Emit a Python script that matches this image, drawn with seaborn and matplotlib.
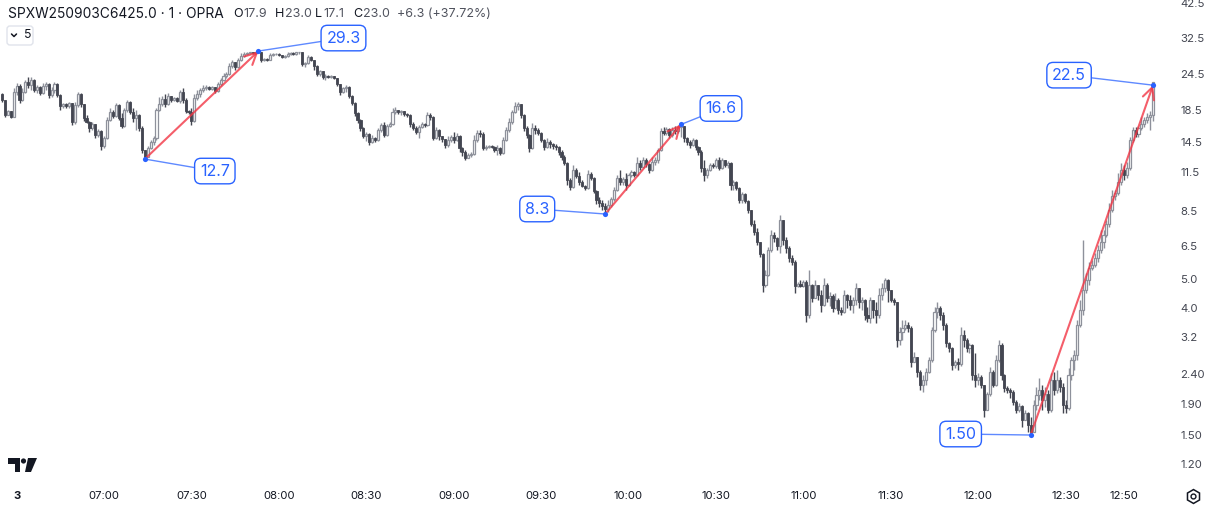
import numpy as np
import pandas as pd
import matplotlib
matplotlib.use("Agg")
import matplotlib.pyplot as plt
from matplotlib.patches import FancyBboxPatch, Polygon, Circle
from matplotlib.lines import Line2D
from matplotlib.transforms import IdentityTransform
from matplotlib.ticker import FixedLocator, NullLocator
import seaborn as sns

# --- data: 1-minute candles, first bar 5 minutes before the "3" (06:30) label ---
first_open = 21.0
close = [
    20.06, 17.86, 18.43, 17.59, 21.34, 22.36, 20.06, 21.34, 23.06, 22.53,
    23.42, 21.67, 22.19, 21.17, 22.36, 22.71, 20.85, 21.67, 22.71, 20.85,
    19.15, 19.45, 19.15, 19.60, 16.92, 19.30, 21.01, 19.45, 17.45, 16.92,
    16.15, 16.66, 15.30, 15.78, 14.05, 14.95, 17.18, 18.29, 17.72, 19.30,
    17.45, 16.40, 18.57, 19.75, 18.29, 17.45, 17.86, 16.15, 13.62, 12.90,
    13.83, 14.49, 14.95, 18.57, 19.45, 20.22, 19.45, 20.69, 20.06, 20.37,
    19.91, 21.34, 20.06, 18.43, 18.29, 17.05, 20.37, 21.01, 21.67, 22.01,
    22.19, 21.84, 22.19, 21.50, 22.71, 23.42, 24.15, 24.53, 26.10, 26.92,
    25.90, 27.34, 28.20, 28.64, 28.86, 29.08, 28.86, 29.08, 29.08, 27.34,
    27.55, 27.34, 28.42, 28.64, 28.64, 28.42, 27.99, 28.20, 28.64, 28.86,
    28.64, 29.08, 29.08, 26.50, 26.71, 27.99, 27.34, 26.10, 24.53, 25.10,
    23.97, 24.15, 23.97, 24.15, 23.78, 22.71, 21.34, 22.01, 22.19, 20.69,
    19.60, 18.15, 17.18, 16.15, 15.18, 15.42, 14.49, 14.95, 14.72, 15.90,
    16.53, 15.30, 16.40, 16.66, 18.29, 18.57, 18.29, 18.43, 18.01, 17.86,
    16.66, 16.15, 15.66, 16.28, 16.66, 16.53, 17.86, 17.59, 14.95, 15.90,
    15.18, 14.83, 14.16, 14.72, 15.07, 14.72, 15.18, 13.83, 13.41, 12.80,
    13.10, 13.20, 14.72, 15.54, 15.42, 13.83, 13.94, 14.05, 13.94, 13.62,
    13.83, 13.30, 14.72, 15.90, 16.92, 18.29, 19.15, 19.45, 17.86, 16.15,
    15.30, 13.83, 16.15, 15.90, 15.54, 14.72, 13.94, 14.49, 14.27, 14.05,
    13.94, 13.41, 12.90, 12.32, 10.80, 10.23, 11.67, 11.13, 10.64, 10.31,
    10.15, 11.31, 10.97, 9.91, 9.25, 9.04, 8.83, 8.63, 8.90, 9.32,
    9.99, 10.97, 10.64, 10.88, 10.39, 11.22, 11.49, 11.22, 12.32, 11.94,
    12.61, 12.23, 11.67, 12.42, 12.61, 13.62, 15.78, 15.54, 16.02, 15.30,
    15.90, 15.78, 16.28, 16.40, 14.95, 14.49, 14.16, 14.72, 13.94, 13.41,
    11.85, 11.22, 11.67, 12.13, 12.04, 12.61, 11.85, 12.61, 12.13, 12.32,
    10.39, 10.64, 10.15, 9.25, 9.68, 9.18, 8.56, 7.68, 7.22, 6.69,
    6.09, 4.79, 5.18, 6.28, 7.06, 6.90, 6.48, 7.92, 6.79, 6.38,
    5.90, 5.72, 4.75, 4.83, 4.75, 4.90, 3.80, 4.79, 4.33, 4.79,
    4.43, 4.10, 4.79, 4.33, 4.40, 4.01, 4.27, 3.95, 3.89, 4.43,
    4.27, 4.10, 4.27, 4.68, 4.20, 4.27, 3.80, 3.71, 4.27, 3.95,
    3.80, 4.43, 4.68, 4.98, 4.61, 4.27, 4.20, 3.13, 3.33, 3.43,
    3.52, 3.43, 2.64, 2.74, 2.44, 2.21, 2.30, 2.44, 2.68, 3.38,
    3.89, 4.01, 3.80, 3.52, 3.06, 2.94, 2.58, 2.64, 2.60, 3.25,
    3.13, 2.94, 3.01, 2.39, 2.30, 2.35, 2.21, 1.82, 2.06, 2.44,
    2.21, 2.68, 3.01, 2.39, 2.16, 2.13, 2.09, 1.94, 1.82, 1.88,
    1.69, 1.78, 1.62, 1.54, 1.89, 2.05, 2.13, 1.97, 2.06, 1.82,
    2.30, 2.13, 2.30, 2.18, 1.89, 1.85, 2.39, 2.68, 2.79, 3.52,
    3.95, 4.61, 4.98, 5.46, 5.59, 5.90, 6.28, 6.69, 7.06, 7.68,
    8.56, 9.54, 9.76, 10.64, 11.67, 11.22, 11.85, 14.72, 15.90, 15.42,
    16.15, 16.66, 17.18, 17.59, 17.90, 23.00,
]
high = [
    21.17, 20.06, 18.57, 18.43, 22.01, 22.88, 22.71, 22.01, 23.42, 23.97,
    23.97, 23.60, 22.53, 22.36, 22.88, 23.06, 22.88, 22.19, 23.06, 22.88,
    21.01, 19.60, 19.60, 19.75, 19.60, 19.75, 21.34, 21.17, 19.45, 17.86,
    17.05, 16.92, 16.66, 16.02, 15.90, 15.18, 17.59, 18.86, 18.57, 19.60,
    19.45, 18.15, 18.86, 20.06, 19.91, 18.86, 18.57, 18.01, 16.40, 13.62,
    14.05, 14.72, 15.18, 18.86, 20.53, 20.69, 21.01, 21.17, 20.53, 20.53,
    20.53, 21.67, 22.01, 20.37, 18.57, 18.86, 21.01, 21.67, 22.01, 22.53,
    22.53, 22.36, 22.36, 22.19, 23.06, 23.78, 24.72, 24.91, 26.71, 27.34,
    26.92, 27.76, 28.86, 29.08, 29.08, 29.08, 29.08, 29.08, 29.30, 29.08,
    27.76, 27.76, 28.86, 28.86, 28.86, 28.86, 28.42, 28.42, 29.08, 29.08,
    29.08, 29.08, 29.08, 28.86, 26.92, 28.42, 28.20, 27.13, 26.30, 25.30,
    24.91, 24.53, 24.34, 24.34, 24.15, 23.78, 22.71, 22.19, 22.53, 22.36,
    20.85, 19.75, 18.29, 17.31, 16.28, 15.66, 15.54, 15.30, 15.07, 16.15,
    16.79, 16.92, 16.66, 16.92, 18.86, 19.00, 18.57, 18.57, 18.29, 18.15,
    18.01, 16.92, 16.40, 16.53, 16.92, 16.79, 18.29, 18.15, 17.72, 16.28,
    16.02, 15.18, 14.83, 15.18, 15.30, 15.66, 15.54, 15.30, 13.94, 13.62,
    13.30, 13.41, 15.30, 15.90, 15.90, 15.66, 14.16, 14.16, 14.16, 14.05,
    14.16, 13.94, 15.07, 16.28, 17.45, 18.57, 19.75, 19.75, 19.45, 18.01,
    16.40, 15.42, 16.79, 16.53, 16.15, 15.66, 14.83, 14.95, 14.72, 14.38,
    14.27, 14.05, 13.62, 13.10, 12.42, 10.97, 12.13, 11.85, 11.49, 10.80,
    10.39, 11.67, 11.49, 11.05, 9.99, 9.46, 9.25, 9.04, 9.25, 9.46,
    10.23, 11.22, 11.67, 11.05, 11.40, 11.40, 11.67, 11.58, 12.90, 12.61,
    12.90, 12.80, 12.32, 12.90, 12.90, 13.83, 16.15, 16.28, 16.28, 16.15,
    16.28, 16.40, 16.53, 16.60, 16.40, 15.07, 14.72, 14.95, 14.83, 14.05,
    13.62, 12.61, 11.85, 12.32, 12.32, 12.80, 12.90, 12.80, 12.61, 12.51,
    12.42, 10.80, 10.72, 10.23, 9.84, 9.76, 9.25, 8.56, 7.92, 7.45,
    6.58, 6.14, 5.38, 6.43, 7.33, 7.22, 6.95, 8.24, 7.80, 6.95,
    6.48, 6.04, 5.82, 4.90, 4.98, 4.98, 4.98, 5.38, 4.83, 4.98,
    4.72, 4.61, 5.06, 4.87, 4.54, 4.47, 4.51, 4.33, 4.04, 4.61,
    4.47, 4.43, 4.37, 4.87, 4.68, 4.37, 4.30, 4.04, 4.37, 4.27,
    4.20, 4.68, 4.87, 5.06, 5.02, 4.61, 4.33, 4.20, 3.46, 3.65,
    3.65, 3.60, 3.49, 2.85, 2.72, 2.48, 2.39, 2.52, 2.74, 3.46,
    4.04, 4.20, 4.07, 3.89, 3.57, 3.08, 2.96, 2.68, 2.72, 3.46,
    3.38, 3.18, 3.06, 3.03, 2.83, 2.42, 2.39, 2.21, 2.09, 2.54,
    2.48, 2.79, 3.13, 3.06, 2.41, 2.19, 2.16, 2.13, 1.97, 1.92,
    1.89, 1.82, 1.79, 1.73, 1.97, 2.18, 2.33, 2.21, 2.18, 2.13,
    2.42, 2.44, 2.48, 2.35, 2.24, 1.97, 2.52, 2.74, 2.90, 3.65,
    4.27, 6.79, 5.26, 5.72, 5.82, 6.14, 6.53, 7.33, 7.33, 7.92,
    9.04, 9.99, 9.99, 11.40, 12.32, 12.13, 12.42, 15.07, 16.28, 16.28,
    16.40, 17.59, 17.59, 18.15, 18.43, 23.00,
]
low = [
    19.75, 17.59, 17.86, 17.45, 17.59, 20.85, 19.60, 19.91, 21.17, 22.01,
    21.67, 21.34, 21.17, 20.85, 21.01, 21.67, 20.37, 20.53, 21.17, 20.53,
    18.57, 18.86, 18.86, 18.86, 16.53, 16.66, 19.00, 19.00, 17.05, 16.79,
    15.66, 15.90, 14.95, 15.07, 13.62, 13.83, 14.83, 17.05, 17.45, 17.59,
    17.18, 16.15, 16.28, 18.29, 18.01, 16.92, 15.90, 15.78, 13.30, 12.70,
    12.90, 13.73, 14.16, 14.72, 18.43, 19.15, 19.00, 19.30, 19.75, 19.91,
    19.75, 19.60, 19.60, 18.15, 18.01, 16.53, 16.92, 20.06, 20.53, 21.34,
    21.67, 21.67, 21.67, 21.17, 21.34, 22.36, 23.24, 23.78, 24.34, 25.69,
    25.30, 25.69, 27.13, 27.99, 28.42, 28.64, 28.64, 28.64, 28.86, 26.92,
    27.13, 27.13, 27.34, 28.20, 28.42, 28.20, 27.76, 27.76, 27.99, 28.42,
    28.42, 28.42, 28.64, 26.10, 25.90, 26.50, 27.13, 25.30, 24.15, 24.15,
    23.60, 23.42, 23.78, 23.78, 23.60, 22.36, 20.85, 21.17, 21.34, 20.37,
    19.30, 17.72, 16.79, 15.78, 14.95, 14.61, 14.16, 14.38, 14.49, 14.61,
    15.66, 15.07, 15.18, 16.28, 16.53, 18.01, 18.01, 17.86, 17.72, 17.59,
    16.28, 15.90, 15.42, 14.95, 16.15, 16.28, 16.40, 17.18, 14.72, 14.83,
    14.72, 14.49, 13.83, 13.94, 14.49, 14.38, 14.61, 13.41, 13.00, 12.61,
    12.90, 12.90, 13.10, 14.49, 15.07, 13.62, 13.62, 13.83, 13.83, 13.41,
    13.10, 13.10, 13.20, 14.61, 15.66, 16.66, 18.15, 18.57, 17.45, 15.78,
    14.95, 13.41, 13.73, 15.42, 15.30, 14.49, 13.62, 13.83, 13.83, 13.73,
    13.62, 13.10, 12.61, 12.13, 10.39, 9.99, 10.15, 10.97, 10.39, 10.23,
    9.99, 10.07, 10.80, 9.76, 8.97, 8.76, 8.56, 8.30, 8.43, 8.76,
    9.18, 9.91, 10.39, 10.39, 9.99, 10.31, 11.05, 11.05, 11.13, 11.67,
    11.85, 11.94, 11.40, 11.58, 12.13, 12.32, 13.51, 15.30, 15.30, 14.95,
    15.07, 15.42, 15.54, 15.07, 14.49, 14.16, 13.83, 14.05, 13.62, 13.10,
    11.49, 10.72, 10.97, 11.58, 11.85, 11.85, 11.67, 11.76, 11.94, 11.85,
    9.99, 9.99, 9.99, 9.04, 9.04, 9.04, 8.37, 7.56, 7.06, 6.53,
    5.95, 4.54, 4.72, 5.14, 6.19, 6.69, 6.28, 6.14, 6.53, 6.14,
    5.72, 5.59, 4.51, 4.72, 4.72, 4.72, 3.60, 3.71, 4.20, 4.37,
    4.27, 3.89, 4.07, 4.20, 4.07, 3.89, 3.98, 3.83, 3.80, 3.86,
    4.01, 3.95, 3.86, 4.10, 4.01, 3.95, 3.65, 3.60, 3.57, 3.71,
    3.57, 3.71, 4.27, 4.54, 4.20, 4.20, 4.10, 2.96, 3.01, 3.13,
    3.38, 3.33, 2.54, 2.64, 2.35, 2.13, 2.09, 2.21, 2.42, 2.64,
    3.33, 3.71, 3.65, 3.38, 2.96, 2.85, 2.48, 2.52, 2.48, 2.56,
    2.96, 2.85, 2.83, 2.30, 2.18, 2.21, 2.16, 1.72, 2.03, 2.03,
    2.18, 2.19, 2.64, 2.30, 2.09, 2.08, 2.00, 1.89, 1.78, 1.79,
    1.60, 1.69, 1.54, 1.50, 1.53, 1.82, 1.97, 1.82, 1.86, 1.78,
    1.79, 2.05, 2.08, 2.09, 1.78, 1.78, 1.82, 2.30, 2.48, 2.68,
    3.46, 3.80, 4.51, 4.79, 5.38, 5.51, 5.72, 6.14, 6.38, 6.95,
    7.50, 8.43, 9.25, 9.61, 10.39, 10.80, 10.97, 11.67, 14.49, 15.07,
    15.07, 15.90, 16.28, 16.79, 15.90, 17.10,
]

# price scale and time axis
y_ticks = [42.5, 32.5, 24.5, 18.5, 14.5, 11.5, 8.5, 6.5, 5.0, 4.0, 3.2, 2.40, 1.90, 1.50, 1.20]
y_labels = ["42.5", "32.5", "24.5", "18.5", "14.5", "11.5", "8.5", "6.5", "5.0", "4.0",
            "3.2", "2.40", "1.90", "1.50", "1.20"]
x_ticks = [0, 30, 60, 90, 120, 150, 180, 210, 240, 270, 300, 330, 360, 380]
x_labels = ["3", "07:00", "07:30", "08:00", "08:30", "09:00", "09:30", "10:00",
            "10:30", "11:00", "11:30", "12:00", "12:30", "12:50"]

# legend line: symbol, interval, exchange and last bar values
title = "SPXW250903C6425.0 · 1 · OPRA"
ohlc_keys = ["O", "H", "L", "C"]
ohlc_vals = ["17.9", "23.0", "17.1", "23.0"]
change_txt = "+6.3 (+37.72%)"

# swing callouts (bar index, price, label, box offset in px)
swing_x = [44, 83, 202, 228, 348, 390]
swing_p = [12.7, 29.3, 8.3, 16.6, 1.50, 22.5]
swing_txt = ["12.7", "29.3", "8.3", "16.6", "1.50", "22.5"]
swing_off = [(70, -12), (85, 13), (-68, 5), (40, 16), (-70, 1), (-84, 10)]
# red arrows drawn between swing points (start index, end index)
arrow_pairs = [(0, 1), (2, 3), (4, 5)]

UP_COL = "#8e919b"
DN_COL = "#434651"
RED = "#f23645"
BLUE = "#2962ff"
TXT = "#131722"
VAL = "#50535e"

sns.set_theme(style="white")
plt.rcParams['font.family'] = ['Inter', 'DejaVu Sans']

W, H = 1213, 508
fig = plt.figure(figsize=(W / 100, H / 100), dpi=100)
fig.patch.set_facecolor("white")
ax = fig.add_axes([0, 28 / H, 1165 / W, 480 / H])

t = np.arange(-5, -5 + len(close))
df = pd.DataFrame({"t": t, "close": close, "high": high, "low": low})
df["open"] = [first_open] + close[:-1]
df["high"] = df[["high", "open", "close"]].max(axis=1)
df["low"] = df[["low", "open", "close"]].min(axis=1)
up = df["close"] >= df["open"]
dn = ~up

ax.set_yscale("log")
wick_cols = np.where(up, UP_COL, DN_COL)
ax.vlines(df["t"], df["low"], df["high"], colors=wick_cols, lw=1.0, zorder=2)
ax.bar(df.loc[up, "t"], df.loc[up, "close"] - df.loc[up, "open"], bottom=df.loc[up, "open"],
       width=0.72, facecolor="white", edgecolor=UP_COL, linewidth=0.9, zorder=3)
ax.bar(df.loc[dn, "t"], df.loc[dn, "open"] - df.loc[dn, "close"], bottom=df.loc[dn, "close"],
       width=0.72, facecolor=DN_COL, edgecolor=DN_COL, linewidth=0.6, zorder=3)

# red arrows
for a, b in arrow_pairs:
    ax.annotate("", xy=(swing_x[b], swing_p[b]), xytext=(swing_x[a], swing_p[a]),
                arrowprops=dict(arrowstyle="->,head_length=0.7,head_width=0.35", color=RED,
                                lw=1.5, alpha=0.8, shrinkA=0, shrinkB=0), zorder=4)

# blue callouts
sns.scatterplot(x=swing_x, y=swing_p, color=BLUE, s=14, edgecolor=BLUE, linewidth=0,
                ax=ax, zorder=6, legend=False)
for x, p, s, off in zip(swing_x, swing_p, swing_txt, swing_off):
    ax.annotate(s, xy=(x, p), xytext=off, textcoords="offset pixels", ha="center", va="center",
                fontsize=11.5, color=BLUE, zorder=7,
                bbox=dict(boxstyle="round,pad=0.33,rounding_size=0.4", fc="white", ec=BLUE, lw=1),
                arrowprops=dict(arrowstyle="-", color=BLUE, lw=1, alpha=0.75, shrinkA=0, shrinkB=0))

ax.set_xlim(-5.7, 394.1)
ax.set_ylim(1.059, 43.5)
ax.yaxis.set_major_locator(FixedLocator(y_ticks))
ax.yaxis.set_minor_locator(NullLocator())
ax.set_yticklabels(y_labels)
ax.yaxis.tick_right()
ax.set_xticks(x_ticks)
ax.set_xticklabels(x_labels)
ax.get_xticklabels()[0].set_fontweight("bold")
ax.tick_params(axis="y", length=0, pad=11, labelsize=8.2, labelcolor="#434651")
ax.tick_params(axis="x", length=0, pad=8, labelsize=8.2, labelcolor=TXT)
for sp in ax.spines.values():
    sp.set_visible(False)
ax.grid(False)
ax.set_xlabel("")
ax.set_ylabel("")

# header texts (pixel positions, y measured from top)
ID = IdentityTransform()
def px(x, y):
    return x, H - y

fig.text(*px(8, 14), title, transform=ID, fontsize=9.9, va="center", ha="left", color=TXT)
rend = fig.canvas.get_renderer()
for key, val, x0 in zip(ohlc_keys, ohlc_vals, [233, 275, 315, 353]):
    k = fig.text(*px(x0, 14), key, transform=ID, fontsize=9.0, va="center", ha="left", color=TXT)
    kw = k.get_window_extent(renderer=rend).width
    fig.text(*px(x0 + kw + 1, 14), val, transform=ID, fontsize=9.0, va="center", ha="left", color=VAL)
fig.text(*px(397, 14), change_txt, transform=ID, fontsize=9.0, va="center", ha="left", color=VAL)

fig.add_artist(FancyBboxPatch(px(7, 45), 26, 19, boxstyle="round,pad=0,rounding_size=3",
                              transform=ID, ec="#e0e3eb", fc="white", lw=1))
fig.add_artist(Line2D([11.5, 14, 16.5], [H - 34, H - 36.5, H - 34], transform=ID, color=TXT, lw=1.1))
fig.text(*px(24, 35.5), "5", transform=ID, fontsize=8.8, va="center", ha="left", color=TXT)

# logo
fig.add_artist(Polygon([px(8, 458), px(20, 458), px(20, 472), px(15, 472), px(15, 463.5), px(8, 463.5)],
                       closed=True, transform=ID, fc=TXT, ec="none"))
fig.add_artist(Circle(px(23.5, 461), 2.6, transform=ID, fc=TXT, ec="none"))
fig.add_artist(Polygon([px(28, 458), px(37, 458), px(31, 472), px(25, 472)],
                       closed=True, transform=ID, fc=TXT, ec="none"))

# settings icon
fig.add_artist(Line2D([1193], [H - 496], transform=ID, marker="h", ms=10, mfc="none",
                      mec=TXT, mew=1.1, ls="none"))
fig.add_artist(Line2D([1193], [H - 496], transform=ID, marker="o", ms=3.5, mfc="none",
                      mec=TXT, mew=1.0, ls="none"))

fig.savefig("out.png", dpi=100, facecolor="white")
